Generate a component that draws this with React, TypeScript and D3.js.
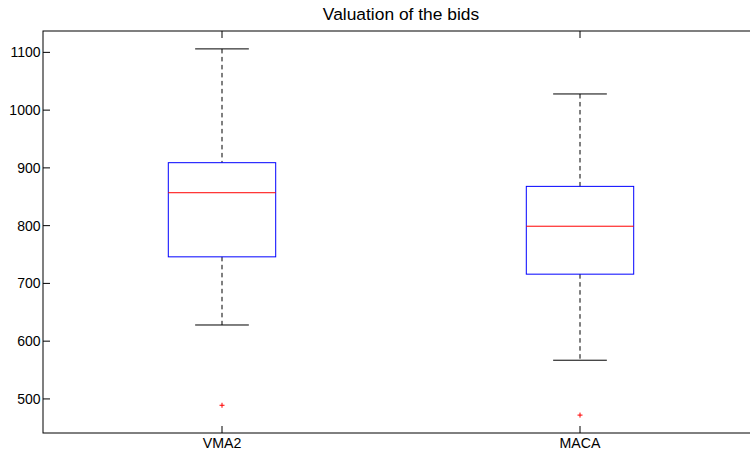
import React from "react";
import * as d3 from "d3";

const categories = ["VMA2", "MACA"];
const lowerWhisker = [628, 567];
const q1 = [746, 716];
const medians = [857, 799];
const q3 = [909, 868];
const upperWhisker = [1106, 1028];
const outliers = [[489], [472]];
const yTicks = [500, 600, 700, 800, 900, 1000, 1100];
const title = "Valuation of the bids";

export default function App() {
  const W = 750, H = 455;
  const left = 43, right = 759, top = 31, bottom = 433;
  const x = d3.scaleLinear().domain([0.5, 2.5]).range([left, right]);
  const y = d3.scaleLinear().domain([441, 1137]).range([bottom, top]);
  const font = "Arial, 'Liberation Sans', Helvetica, sans-serif";
  const tickLen = 7;
  return (
    <svg width={W} height={H} style={{ position: "absolute", left: 0, top: 0 }}>
      <rect x={0} y={0} width={W} height={H} fill="#fff" />
      <text x={(left + right) / 2} y={20} textAnchor="middle" fontFamily={font} fontSize={17.4} fill="#000">{title}</text>
      {categories.map((c, i) => {
        const cx = x(i + 1);
        const bw = x(1.3) - x(1);
        const cw = x(1.15) - x(1);
        return (
          <g key={c}>
            <line x1={cx} x2={cx} y1={y(upperWhisker[i])} y2={y(q3[i])} stroke="#000" strokeDasharray="4.5,3.5" />
            <line x1={cx} x2={cx} y1={y(q1[i])} y2={y(lowerWhisker[i])} stroke="#000" strokeDasharray="4.5,3.5" />
            <line x1={cx - cw / 2} x2={cx + cw / 2} y1={y(upperWhisker[i])} y2={y(upperWhisker[i])} stroke="#000" />
            <line x1={cx - cw / 2} x2={cx + cw / 2} y1={y(lowerWhisker[i])} y2={y(lowerWhisker[i])} stroke="#000" />
            <rect x={cx - bw / 2} y={y(q3[i])} width={bw} height={y(q1[i]) - y(q3[i])} fill="none" stroke="#0000ff" />
            <line x1={cx - bw / 2} x2={cx + bw / 2} y1={y(medians[i])} y2={y(medians[i])} stroke="#ff0000" />
            {outliers[i].map((o, j) => (
              <g key={j} stroke="#ff0000">
                <line x1={cx - 2.5} x2={cx + 2.5} y1={y(o)} y2={y(o)} />
                <line x1={cx} x2={cx} y1={y(o) - 2.5} y2={y(o) + 2.5} />
              </g>
            ))}
            <line x1={cx} x2={cx} y1={bottom} y2={bottom - tickLen} stroke="#000" />
            <line x1={cx} x2={cx} y1={top} y2={top + tickLen} stroke="#000" />
            <text x={cx} y={bottom + 15} textAnchor="middle" fontFamily={font} fontSize={14.2} fill="#000">{c}</text>
          </g>
        );
      })}
      {yTicks.map((t) => (
        <g key={t}>
          <line x1={left} x2={left + tickLen} y1={y(t)} y2={y(t)} stroke="#000" />
          <line x1={right} x2={right - tickLen} y1={y(t)} y2={y(t)} stroke="#000" />
          <text x={left - 2.5} y={y(t) + 5} textAnchor="end" fontFamily={font} fontSize={14} fill="#000">{t}</text>
        </g>
      ))}
      <rect x={left} y={top} width={right - left} height={bottom - top} fill="none" stroke="#000" />
    </svg>
  );
}
